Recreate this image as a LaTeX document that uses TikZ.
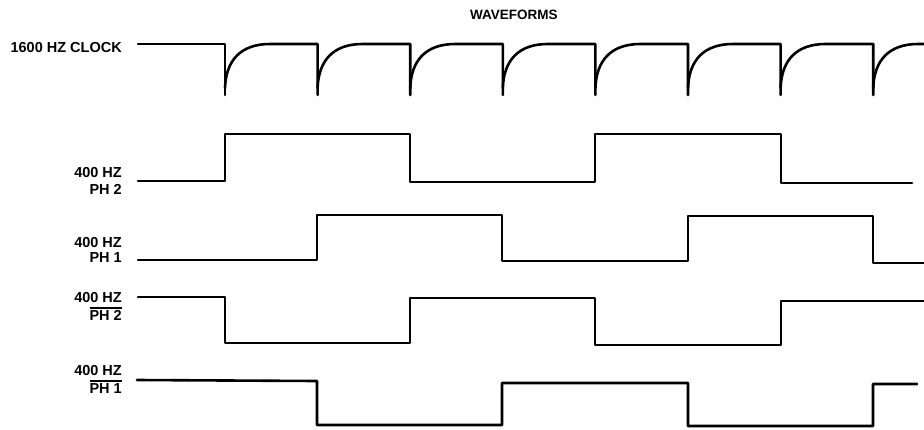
\documentclass[tikz,border=0pt]{standalone}
\usepackage{fontspec}
\setmainfont{Liberation Sans}
\newcommand{\barlbl}[1]{\vbox{\hrule height 1.6pt \kern 1.2pt \hbox{#1}}}
\tikzset{%
  wave/.style={draw,line width=2.6pt,line join=round,line cap=round},
  lbl/.style={font=\bfseries\fontsize{14.5}{17}\selectfont,inner sep=0,anchor=base east},
  ttl/.style={font=\bfseries\fontsize{13.5}{16}\selectfont,inner sep=0,anchor=base west}
}

\begin{document}
\begin{tikzpicture}[x=1pt,y=-1pt]
    \useasboundingbox (0,0) rectangle (924,429);
    \node[ttl] (title) at (470,19) {WAVEFORMS};
    % labels
    \node[lbl] (clk) at (122,52) {1600 HZ CLOCK};
    \node[lbl] (phb_f) at (122,177) {400 HZ};
    \node[lbl] (phb_n) at (122,194) {PH 2};
    \node[lbl] (pha_f) at (122,247) {400 HZ};
    \node[lbl] (pha_n) at (122,262) {PH 1};
    \node[lbl] (nphb_f) at (122,302) {400 HZ};
    \node[lbl] (nphb_n) at (122,320) {\barlbl{PH 2}};
    \node[lbl] (npha_f) at (122,375) {400 HZ};
    \node[lbl] (npha_n) at (122,393) {\barlbl{PH 1}};
    % clock
    \draw[wave] (138,44) -- (225,44) -- (225,95);
    \foreach \x in {225,317.6,410.2,502.8,595.4,688,780.6} {
      \draw[wave] (\x,88) .. controls (\x+1,60) and (\x+16,44) .. (\x+45,44)
        -- (\x+92.6,44) -- (\x+92.6,95);
    }
    \draw[wave] (873.2,88) .. controls (874.2,60) and (889.2,44) .. (918.2,44) -- (924,44);
    % PH 2
    \draw[wave] (138,181) -- (225,181) -- (225,134) -- (410,134) -- (410,182)
      -- (595,182) -- (595,134) -- (781,134) -- (781,183) -- (912,183);
    % PH 1
    \draw[wave] (138,260) -- (317,260) -- (317,215) -- (502,215) -- (502,261)
      -- (688,261) -- (688,216) -- (873,216) -- (873,263) -- (924,263);
    % PH 2 bar
    \draw[wave] (138,297) -- (225,297) -- (225,343) -- (410,343) -- (410,298)
      -- (595,298) -- (595,345) -- (781,345) -- (781,301) -- (924,301);
    % PH 1 bar
    \draw[wave] (137,380) -- (317,381) -- (317,425) -- (502,425) -- (502,383)
      -- (688,383) -- (688,426) -- (873,426) -- (873,384) -- (917,384);
\end{tikzpicture}
\end{document}
